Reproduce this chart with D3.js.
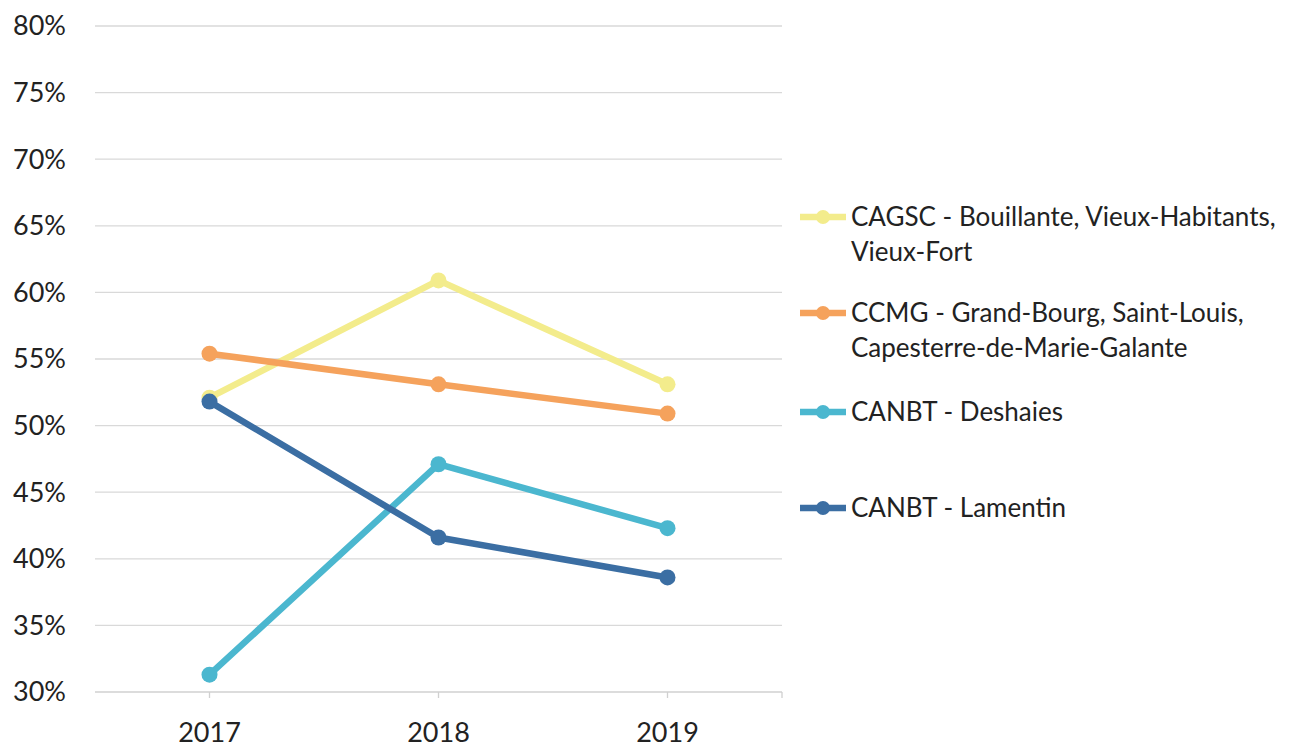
<!DOCTYPE html>
<html>
<head>
<meta charset="utf-8">
<script src="https://cdn.jsdelivr.net/npm/d3@7"></script>
<style>
  body { margin: 0; background: #fff; }
  text { font-family: Lato, "Open Sans", sans-serif; fill: #222; }
</style>
</head>
<body>
<svg id="chart" width="1293" height="747"></svg>
<script>
var years = ["2017", "2018", "2019"]
var yTicks = [0.30, 0.35, 0.40, 0.45, 0.50, 0.55, 0.60, 0.65, 0.70, 0.75, 0.80]
var cagsc = [0.521, 0.609, 0.531]
var ccmg = [0.554, 0.531, 0.509]
var deshaies = [0.313, 0.471, 0.423]
var lamentin = [0.518, 0.416, 0.386]

var series = [
    {name: ["CAGSC - Bouillante, Vieux-Habitants,", "Vieux-Fort"], values: cagsc, color: "#f3ec8c", ly: 217},
    {name: ["CCMG - Grand-Bourg, Saint-Louis,", "Capesterre-de-Marie-Galante"], values: ccmg, color: "#f5a25c", ly: 313},
    {name: ["CANBT - Deshaies"], values: deshaies, color: "#4bb7cf", ly: 412},
    {name: ["CANBT - Lamentin"], values: lamentin, color: "#3b6ea3", ly: 508}
]

var svg = d3.select("#chart")
var pLeft = 95, pRight = 782, pTop = 26, pBottom = 692

var x = d3.scaleBand().domain(years).range([pLeft, pRight])
var y = d3.scaleLinear().domain([0.30, 0.80]).range([pBottom, pTop])

// grid
svg.append("g").selectAll("line").data(yTicks.slice(1)).join("line")
    .attr("x1", pLeft).attr("x2", pRight)
    .attr("y1", function(d) { return y(d) }).attr("y2", function(d) { return y(d) })
    .attr("stroke", "#d9d9d9").attr("stroke-width", 1.3)

// y labels
svg.append("g").selectAll("text").data(yTicks).join("text")
    .attr("x", 66).attr("y", function(d) { return y(d) })
    .attr("dy", "0.35em").attr("text-anchor", "end")
    .attr("font-size", "27px")
    .text(d3.format(".0%"))

// x axis
var xAxis = svg.append("g").attr("transform", "translate(0," + pBottom + ")")
xAxis.append("line").attr("x1", pLeft).attr("x2", pRight).attr("stroke", "#d0d0d0").attr("stroke-width", 1.3)
var tickX = years.map(function(d) { return x(d) + x.bandwidth() / 2 }).concat([pRight])
xAxis.selectAll("line.tick").data(tickX).join("line").attr("class", "tick")
    .attr("x1", function(d) { return d }).attr("x2", function(d) { return d })
    .attr("y1", 0).attr("y2", 6).attr("stroke", "#d0d0d0").attr("stroke-width", 1.3)
xAxis.selectAll("text").data(years).join("text")
    .attr("x", function(d) { return x(d) + x.bandwidth() / 2 })
    .attr("y", 50).attr("text-anchor", "middle").attr("font-size", "27px")
    .text(function(d) { return d })

var line = d3.line()
    .x(function(d, i) { return x(years[i]) + x.bandwidth() / 2 })
    .y(function(d) { return y(d) })

var g = svg.append("g").selectAll("g").data(series).join("g")
g.append("path")
    .attr("d", function(d) { return line(d.values) })
    .attr("fill", "none").attr("stroke", function(d) { return d.color })
    .attr("stroke-width", 6.5).attr("stroke-linejoin", "round")
g.selectAll("circle").data(function(d) { return d.values.map(function(v, i) { return {v: v, i: i, c: d.color} }) })
    .join("circle")
    .attr("cx", function(d) { return x(years[d.i]) + x.bandwidth() / 2 })
    .attr("cy", function(d) { return y(d.v) })
    .attr("r", 8).attr("fill", function(d) { return d.c })

// legend
var lg = svg.append("g").selectAll("g").data(series).join("g")
    .attr("transform", function(d) { return "translate(800," + d.ly + ")" })
lg.append("line").attr("x1", 0).attr("x2", 46)
    .attr("stroke", function(d) { return d.color }).attr("stroke-width", 6.5)
lg.append("circle").attr("cx", 23).attr("r", 7).attr("fill", function(d) { return d.color })
lg.append("text").attr("x", 51).attr("font-size", "26px")
    .selectAll("tspan").data(function(d) { return d.name }).join("tspan")
    .attr("x", 51).attr("dy", function(d, i) { return i == 0 ? "0.35em" : "35px" })
    .text(function(d) { return d })
</script>
</body>
</html>
